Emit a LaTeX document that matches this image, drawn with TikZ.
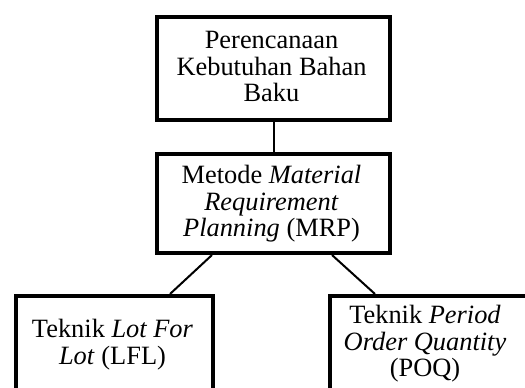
\documentclass[tikz,border=0pt]{standalone}
\usepackage{fontspec}
\setmainfont{Liberation Serif}
\begin{document}
\begin{tikzpicture}[x=1pt,y=-1pt,
  box/.style={draw, line width=4pt, inner sep=0pt, anchor=north west},
  txt/.style={align=center, inner sep=0pt, font=\fontsize{26.4}{26.7}\selectfont, anchor=base},
  link/.style={line width=2pt}]
\useasboundingbox (0,0) rectangle (525,388);
\clip (0,0) rectangle (525,388);
\node[box, minimum width=233pt, minimum height=103pt] (top) at (155,15) {};
\node[box, minimum width=233pt, minimum height=99pt] (mid) at (155,152) {};
\node[box, minimum width=197pt, minimum height=120pt] (lfl) at (14,294) {};
\node[box, minimum width=200pt, minimum height=120pt] (poq) at (328,294) {};
\node[txt] (toptext) at (271.5,101.7) {Perencanaan\\Kebutuhan Bahan\\Baku};
\node[txt] (midtext) at (271.5,236.7) {Metode \textit{Material}\\\textit{Requirement}\\\textit{Planning} (MRP)};
\node[txt] (lfltext) at (112.5,364) {Teknik \textit{Lot For}\\\textit{Lot} (LFL)};
\node[txt] (poqtext) at (425,376.7) {Teknik \textit{Period}\\\textit{Order Quantity}\\(POQ)};
\draw[link] (top.south) -- (mid.north);
\draw[link] ([xshift=57pt]mid.south west) -- ([xshift=156pt]lfl.north west);
\draw[link] ([xshift=177pt]mid.south west) -- ([xshift=47pt]poq.north west);
\end{tikzpicture}
\end{document}
